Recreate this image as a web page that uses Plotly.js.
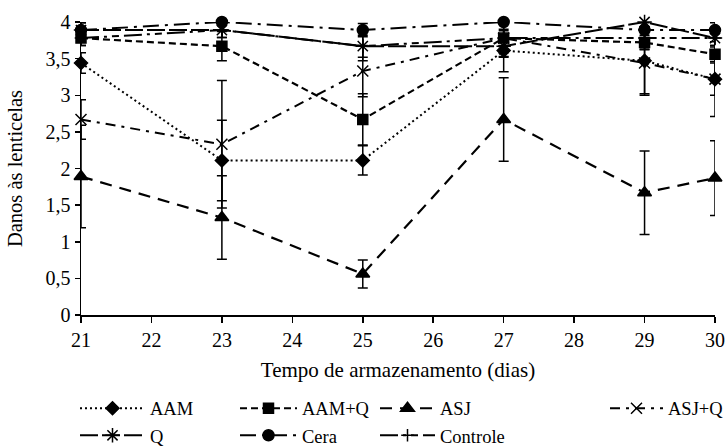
<!DOCTYPE html>
<html>
<head>
<meta charset="utf-8">
<script src="https://cdn.plot.ly/plotly-3.0.1.min.js"></script>
<style>html,body{margin:0;padding:0;background:#fff;}#chart{width:728px;height:446px;}</style>
</head>
<body>
<div id="chart"></div>
<script>
// Days of storage
const days = [21, 23, 25, 27, 29, 30];
const xTicks = [21, 22, 23, 24, 25, 26, 27, 28, 29, 30];
const yTicks = [0, 0.5, 1, 1.5, 2, 2.5, 3, 3.5, 4];

// Series values (lenticel damage)
const aam      = [3.44, 2.11, 2.11, 3.61, 3.47, 3.22];
const aamQ     = [3.78, 3.67, 2.67, 3.78, 3.72, 3.56];
const asj      = [1.89, 1.33, 0.56, 2.67, 1.67, 1.87];
const asjQ     = [2.67, 2.33, 3.33, 3.78, 3.44, 3.22];
const q        = [3.89, 3.89, 3.67, 3.67, 4.00, 3.78];
const cera     = [3.89, 4.00, 3.89, 4.00, 3.89, 3.89];
const controle = [3.78, 3.89, 3.67, 3.78, 3.78, 3.78];

// Error bars
const aamErr      = [0.14, 0.55, 0.20, 0.29, 0.45, 0.22];
const aamQErr     = [0.10, 0.20, 0.35, 0.25, 0.10, 0.10];
const asjErr      = [0.70, 0.57, 0.19, 0.57, 0.57, 0.51];
const asjQErr     = [0.27, 0.87, 0.35, 0.10, 0.44, 0.51];
const qErr        = [0.10, 0.10, 0.20, 0.15, 0.00, 0.10];
const ceraErr     = [0.10, 0.00, 0.09, 0.00, 0.10, 0.10];
const controleErr = [0.10, 0.10, 0.15, 0.20, 0.15, 0.10];

const names = ['AAM', 'AAM+Q', 'ASJ', 'ASJ+Q', 'Q', 'Cera', 'Controle'];

const FONT = '"Times New Roman", "Liberation Serif", "DejaVu Serif", serif';

function mk(name, y, err, dash, width, symbol, size, legend) {
  return {
    type: 'scatter', mode: 'lines+markers', name: name, x: days, y: y,
    cliponaxis: false, legend: legend,
    line: {color: '#000', width: width, dash: dash},
    marker: {color: '#000', symbol: symbol, size: size, line: {color: '#000', width: 1.5}},
    error_y: {type: 'data', array: err, visible: true, color: '#000', thickness: 1.5, width: 5}
  };
}

const data = [
  mk(names[0], aam, aamErr, '2px,3px', 2, 'diamond', 10, 'legend'),
  mk(names[1], aamQ, aamQErr, '7px,4px', 2.2, 'square', 10, 'legend2'),
  mk(names[2], asj, asjErr, '12px,8px', 2.2, 'triangle-up', 12, 'legend3'),
  mk(names[3], asjQ, asjQErr, '10px,6px,3px,6px', 2, 'x-thin-open', 11, 'legend4'),
  mk(names[4], q, qErr, '18px,4px', 2, 'asterisk-open', 12, 'legend'),
  mk(names[5], cera, ceraErr, '16px,6px,3px,6px', 2, 'circle', 11, 'legend2'),
  mk(names[6], controle, controleErr, '18px,5px,3px,5px,7px,5px', 2, 'cross-thin-open', 9, 'legend3')
];

function leg(xpx, iw) {
  return {
    x: (xpx - 81) / 634, xanchor: 'left', y: -0.255, yanchor: 'top',
    orientation: 'v', font: {family: FONT, size: 18.5, color: '#000'},
    bgcolor: 'rgba(0,0,0,0)', itemwidth: iw, tracegroupgap: 0, traceorder: 'normal'
  };
}

const layout = {
  width: 728, height: 446,
  margin: {l: 81, r: 13, t: 22, b: 131, autoexpand: false},
  paper_bgcolor: '#fff', plot_bgcolor: '#fff',
  separators: ', ',
  font: {family: FONT, size: 20, color: '#000'},
  showlegend: true,
  xaxis: {
    range: [21, 30], tickvals: xTicks, ticktext: xTicks.map(String), automargin: false,
    showgrid: false, zeroline: false, showline: true, linecolor: '#000', linewidth: 1.5,
    ticks: 'outside', ticklen: 6, tickwidth: 1.5, tickcolor: '#000',
    tickfont: {family: FONT, size: 20, color: '#000'},
    title: {text: 'Tempo de armazenamento (dias)', font: {family: FONT, size: 21, color: '#000'}, standoff: 13}
  },
  yaxis: {
    range: [0, 4], tickvals: yTicks, automargin: false,
    showgrid: false, zeroline: false, showline: true, linecolor: '#000', linewidth: 1.5,
    ticks: 'outside', ticklen: 5, tickwidth: 1.5, tickcolor: '#000',
    tickfont: {family: FONT, size: 20, color: '#000'},
    title: {text: 'Danos às lenticelas', font: {family: FONT, size: 20.5, color: '#000'}, standoff: 17}
  },
  legend: leg(75, 65), legend2: leg(235, 57), legend3: leg(375, 55), legend4: leg(605, 53)
};

Plotly.newPlot('chart', data, layout, {staticPlot: true, displayModeBar: false});
</script>
</body>
</html>
